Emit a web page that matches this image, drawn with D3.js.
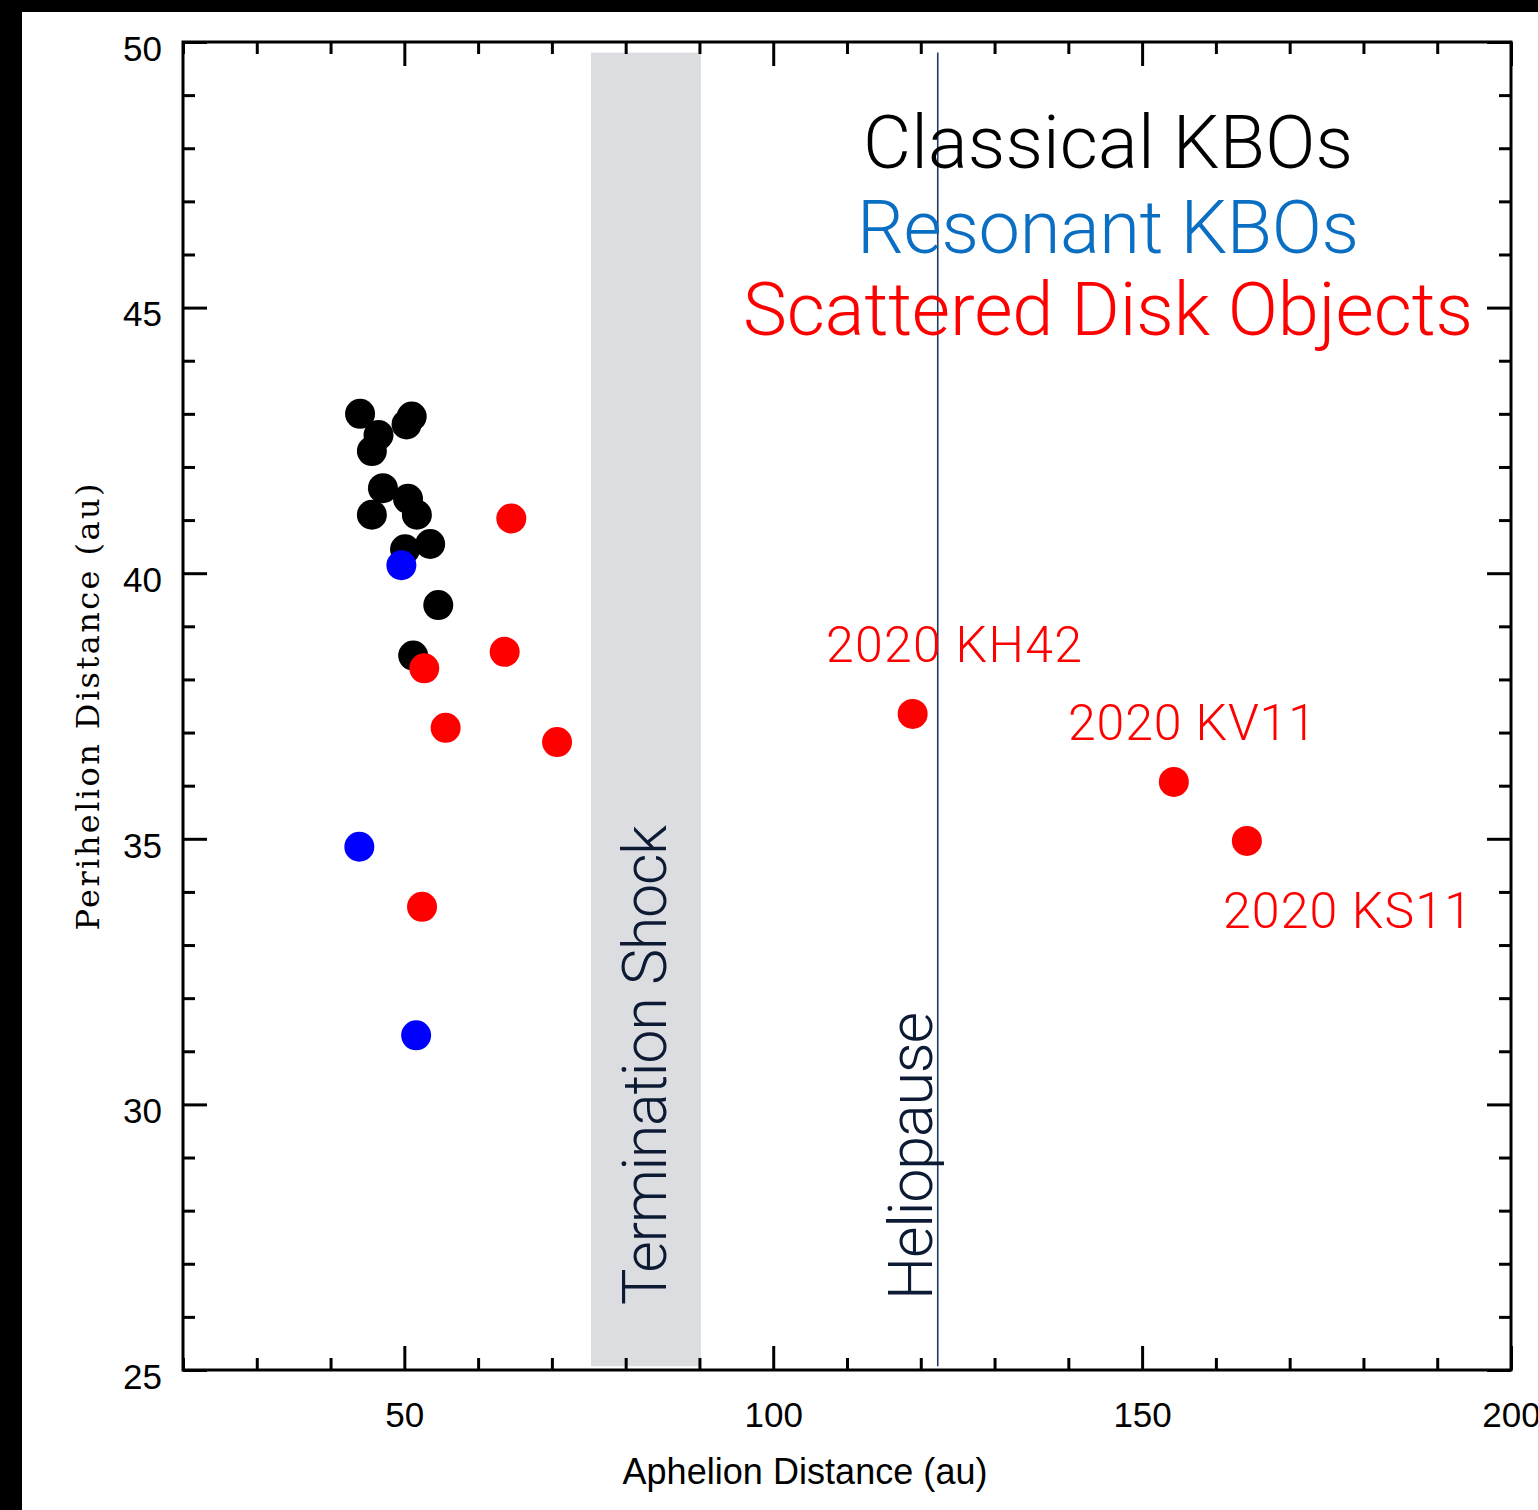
<!DOCTYPE html>
<html>
<head>
<meta charset="utf-8">
<script src="https://cdn.jsdelivr.net/npm/d3@7"></script>
<style>
  body { margin: 0; background: #000; }
  svg { display: block; }
</style>
</head>
<body>
<svg width="1538" height="1510"></svg>
<script>
  'use strict';

  // aphelion (au), perihelion (au)
  const classical = [
    [44.0, 43.0], [50.3, 42.8], [51.0, 42.95], [46.5, 42.6], [45.6, 42.3],
    [47.1, 41.6], [45.6, 41.1], [50.5, 41.4], [51.7, 41.1], [50.1, 40.45],
    [53.5, 40.55], [54.6, 39.4], [51.2, 38.45]
  ];
  const resonant = [[49.6, 40.15], [43.9, 34.85], [51.6, 31.3]];
  const scattered = [
    [64.5, 41.03], [63.6, 38.52], [52.7, 38.21], [55.6, 37.09], [70.7, 36.82],
    [52.4, 33.72], [118.9, 37.35], [154.3, 36.07], [164.2, 34.96]
  ];
  const namedObjects = ['2020 KH42', '2020 KV11', '2020 KS11'];
  const namedLabelPos = [[107.15, 38.33], [139.95, 36.86], [160.96, 33.32]];
  const namedLabelLen = [256, 248, 249];

  const legendNames = ['Classical KBOs', 'Resonant KBOs', 'Scattered Disk Objects'];
  const legendColors = ['#000', '#0a6fc2', '#ff0000'];
  const legendLen = [490, 502, 730];

  const terminationShock = [75.3, 90.2];
  const heliopause = 122.3;

  const xMajor = [50, 100, 150, 200];
  const yMajor = [25, 30, 35, 40, 45, 50];

  const svg = d3.select('svg');

  svg.append('rect')
      .attr('x', 22).attr('y', 12)
      .attr('width', 1538).attr('height', 1510)
      .attr('fill', '#fff');

  const pLeft = 183, pRight = 1511, pTop = 42, pBottom = 1370;

  const x = d3.scaleLinear().domain([20, 200]).range([pLeft, pRight]);
  const y = d3.scaleLinear().domain([25, 50]).range([pBottom, pTop]);

  // grey band + heliopause line
  svg.append('rect')
      .attr('x', x(terminationShock[0]))
      .attr('y', y(49.8))
      .attr('width', x(terminationShock[1]) - x(terminationShock[0]))
      .attr('height', y(25.07) - y(49.8))
      .attr('fill', '#dcdde1');

  svg.append('line')
      .attr('x1', x(heliopause)).attr('x2', x(heliopause))
      .attr('y1', y(49.8)).attr('y2', y(25.07))
      .attr('stroke', '#1d3c63')
      .attr('stroke-width', 1.6);

  // axes (ticks point inward on all four sides)
  const styleAxis = g => {
    g.select('.domain').remove();
    g.selectAll('.tick line').attr('stroke', '#000').attr('stroke-width', 3);
    g.selectAll('.tick text')
        .attr('fill', '#000')
        .style('font-family', 'Liberation Sans, Arial, sans-serif')
        .style('font-size', '35px');
  };

  const xMinor = d3.range(20, 201, 10).filter(d => !xMajor.includes(d));
  const yMinor = d3.range(25, 51, 1).filter(d => !yMajor.includes(d));

  svg.append('g').attr('transform', `translate(0,${pBottom})`)
      .call(d3.axisBottom(x).tickValues(xMinor).tickSize(-12).tickFormat(''))
      .call(styleAxis);
  svg.append('g').attr('transform', `translate(0,${pBottom})`)
      .call(d3.axisBottom(x).tickValues(xMajor).tickSize(-24).tickPadding(32).tickFormat(d3.format('d')))
      .call(styleAxis);
  svg.append('g').attr('transform', `translate(0,${pTop})`)
      .call(d3.axisTop(x).tickValues(xMinor).tickSize(-12).tickFormat(''))
      .call(styleAxis);
  svg.append('g').attr('transform', `translate(0,${pTop})`)
      .call(d3.axisTop(x).tickValues(xMajor).tickSize(-24).tickFormat(''))
      .call(styleAxis);

  svg.append('g').attr('transform', `translate(${pLeft},0)`)
      .call(d3.axisLeft(y).tickValues(yMinor).tickSize(-12).tickFormat(''))
      .call(styleAxis);
  const yAx = svg.append('g').attr('transform', `translate(${pLeft},0)`)
      .call(d3.axisLeft(y).tickValues(yMajor).tickSize(-24).tickPadding(21).tickFormat(d3.format('d')))
      .call(styleAxis);
  yAx.selectAll('.tick text').attr('dy', '0.52em');
  svg.append('g').attr('transform', `translate(${pRight},0)`)
      .call(d3.axisRight(y).tickValues(yMinor).tickSize(-12).tickFormat(''))
      .call(styleAxis);
  svg.append('g').attr('transform', `translate(${pRight},0)`)
      .call(d3.axisRight(y).tickValues(yMajor).tickSize(-24).tickFormat(''))
      .call(styleAxis);

  svg.append('rect')
      .attr('x', pLeft).attr('y', pTop)
      .attr('width', pRight - pLeft).attr('height', pBottom - pTop)
      .attr('fill', 'none')
      .attr('stroke', '#000')
      .attr('stroke-width', 3);

  // axis titles
  svg.append('text')
      .attr('x', 805).attr('y', 1484)
      .attr('text-anchor', 'middle')
      .attr('textLength', 365)
      .style('font-family', 'Liberation Sans, Arial, sans-serif')
      .style('font-size', '36px')
      .text('Aphelion Distance (au)');

  svg.append('text')
      .attr('transform', 'translate(99,707) rotate(-90)')
      .attr('text-anchor', 'middle')
      .attr('textLength', 447)
      .style('font-family', 'DejaVu Serif, serif')
      .style('font-size', '32px')
      .text('Perihelion Distance (au)');

  // band annotations
  svg.append('text')
      .attr('transform', 'translate(666,1305) rotate(-90)')
      .attr('fill', '#0d1a33')
      .style('font-family', 'Roboto, sans-serif')
      .style('font-weight', 300)
      .style('font-size', '61px')
      .attr('textLength', 480)
      .text('Termination Shock');

  svg.append('text')
      .attr('transform', 'translate(932,1300) rotate(-90)')
      .attr('fill', '#0d1a33')
      .style('font-family', 'Roboto, sans-serif')
      .style('font-weight', 300)
      .style('font-size', '61px')
      .attr('textLength', 288)
      .text('Heliopause');

  // points
  const groups = [[classical, '#000'], [resonant, '#0000ff'], [scattered, '#ff0000']];
  groups.forEach(([pts, col]) => {
    svg.append('g').selectAll('circle').data(pts)
      .enter().append('circle')
        .attr('cx', d => x(d[0]))
        .attr('cy', d => y(d[1]))
        .attr('r', 15)
        .attr('fill', col);
  });

  // labels for the three new objects
  svg.append('g').selectAll('text').data(namedObjects)
    .enter().append('text')
      .attr('x', (d, i) => x(namedLabelPos[i][0]))
      .attr('y', (d, i) => y(namedLabelPos[i][1]))
      .attr('textLength', (d, i) => namedLabelLen[i])
      .attr('fill', '#ff0000')
      .style('font-family', 'Roboto, sans-serif')
      .style('font-size', '50px')
      .style('font-weight', 300)
      .text(d => d);

  // legend
  const legendY = [168, 253, 335];
  svg.append('g').selectAll('text').data(legendNames)
    .enter().append('text')
      .attr('x', 1108)
      .attr('y', (d, i) => legendY[i])
      .attr('text-anchor', 'middle')
      .attr('textLength', (d, i) => legendLen[i])
      .attr('fill', (d, i) => legendColors[i])
      .style('font-family', 'Roboto, sans-serif')
      .style('font-size', '74px')
      .style('font-weight', 300)
      .text(d => d);
</script>
</body>
</html>
